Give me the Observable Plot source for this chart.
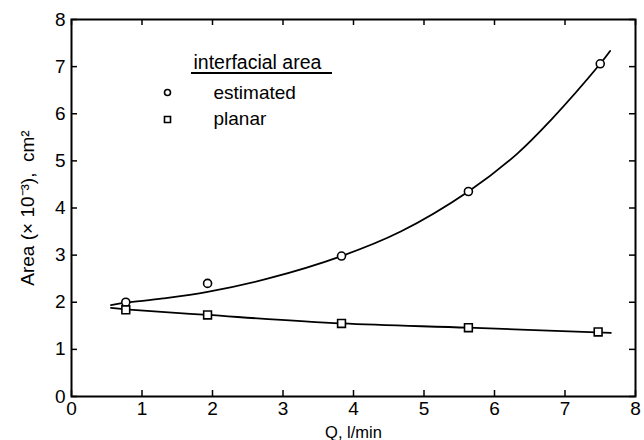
<!DOCTYPE html>
<html>
<head>
<meta charset="utf-8">
<script src="https://cdn.jsdelivr.net/npm/d3@7"></script>
<script src="https://cdn.jsdelivr.net/npm/@observablehq/plot@0.6"></script>
<style>
  html, body { margin: 0; padding: 0; background: #fff; }
  #chart svg { display: block; }
</style>
</head>
<body>
<div id="chart"></div>
<script>
// Measured interfacial area vs. gas flow rate Q
const flowRates = [0.77, 1.93, 3.83, 5.63, 7.5];          // Q, l/min
const estimatedArea = [2.0, 2.40, 2.98, 4.35, 7.06];      // ×10⁻³ cm²
const planarFlowRates = [0.77, 1.93, 3.83, 5.63, 7.47];
const planarArea = [1.84, 1.73, 1.55, 1.46, 1.37];

// Hand-drawn smoothing curves through each series
const estCurveQ = [0.56, 0.77, 1.3, 1.93, 2.78, 3.83, 4.67, 5.63, 6.32, 6.79, 7.5, 7.64];
const estCurveA = [1.94, 1.99, 2.08, 2.22, 2.50, 2.98, 3.50, 4.35, 5.15, 5.85, 7.06, 7.33];
const planCurveQ = [0.56, 0.77, 1.93, 3.83, 5.63, 7.65];
const planCurveA = [1.88, 1.85, 1.73, 1.55, 1.46, 1.35];

const xTicks = [0, 1, 2, 3, 4, 5, 6, 7, 8];
const yTicks = [0, 1, 2, 3, 4, 5, 6, 7, 8];

const legendTitle = "interfacial area";
const legendLabels = ["estimated", "planar"];

const est = flowRates.map((q, i) => ({q, a: estimatedArea[i]}));
const plan = planarFlowRates.map((q, i) => ({q, a: planarArea[i]}));
const estCurve = estCurveQ.map((q, i) => ({q, a: estCurveA[i]}));
const planCurve = planCurveQ.map((q, i) => ({q, a: planCurveA[i]}));

const font = "Liberation Sans, Arial, sans-serif";
const W = 644, H = 440;
const mL = 71, mR = 9, mT = 19, mB = 44;
const frameW = W - mL - mR, frameH = H - mT - mB;
const tickLen = 6;

// underline beneath the legend heading (offsets from the frame's top-left corner)
function headingRule(index, scales, values, dims) {
  const line = document.createElementNS("http://www.w3.org/2000/svg", "line");
  line.setAttribute("x1", dims.marginLeft + 120);
  line.setAttribute("x2", dims.marginLeft + 261);
  line.setAttribute("y1", dims.marginTop + 54);
  line.setAttribute("y2", dims.marginTop + 54);
  line.setAttribute("stroke", "#000");
  line.setAttribute("stroke-width", 1.8);
  return line;
}

const chart = Plot.plot({
  width: W,
  height: H,
  marginLeft: mL,
  marginRight: mR,
  marginTop: mT,
  marginBottom: mB,
  style: {fontFamily: font, fontSize: "19px", color: "#000", background: "#fff"},
  x: {domain: [0, 8]},
  y: {domain: [0, 8]},
  marks: [
    Plot.axisX({anchor: "bottom", ticks: xTicks, tickSize: 0, tickPadding: 5, fontSize: 19,
      label: null}),
    Plot.axisX({anchor: "bottom", ticks: [], tickSize: 0, fontSize: 16.5,
      label: "Q, l/min", labelAnchor: "center", labelOffset: 41, labelArrow: "none"}),
    Plot.axisY({anchor: "left", ticks: yTicks, tickSize: 0, tickPadding: 6, fontSize: 19,
      label: "Area (× 10⁻³),  cm²", labelAnchor: "center", labelOffset: 51, labelArrow: "none"}),

    // inward tick marks on all four sides
    Plot.tickX(xTicks, {x: d => d, insetTop: frameH - tickLen, stroke: "#000", strokeWidth: 1.5}),
    Plot.tickX(xTicks, {x: d => d, insetBottom: frameH - tickLen, stroke: "#000", strokeWidth: 1.5}),
    Plot.tickY(yTicks, {y: d => d, insetRight: frameW - tickLen, stroke: "#000", strokeWidth: 1.5}),
    Plot.tickY(yTicks, {y: d => d, insetLeft: frameW - tickLen, stroke: "#000", strokeWidth: 1.5}),
    Plot.frame({stroke: "#000", strokeWidth: 2}),

    Plot.line(estCurve, {x: "q", y: "a", curve: "catmull-rom", stroke: "#000", strokeWidth: 1.8}),
    Plot.line(planCurve, {x: "q", y: "a", curve: "catmull-rom", stroke: "#000", strokeWidth: 1.8}),
    Plot.dot(est, {x: "q", y: "a", symbol: "circle", r: 4, fill: "#fff", stroke: "#000", strokeWidth: 1.6}),
    Plot.dot(plan, {x: "q", y: "a", symbol: "square", r: 4.4, fill: "#fff", stroke: "#000", strokeWidth: 1.6}),

    // Legend
    Plot.text([legendTitle], {frameAnchor: "top-left", lineAnchor: "middle", dx: 122, dy: 43, textAnchor: "start", fontSize: 19.5}),
    headingRule,
    Plot.dot([0], {frameAnchor: "top-left", dx: 96, dy: 73, symbol: "circle", r: 3, fill: "#fff", stroke: "#000", strokeWidth: 1.6}),
    Plot.dot([0], {frameAnchor: "top-left", dx: 96, dy: 100, symbol: "square", r: 3.4, fill: "#fff", stroke: "#000", strokeWidth: 1.6}),
    Plot.text([legendLabels[0]], {frameAnchor: "top-left", lineAnchor: "middle", dx: 142, dy: 73, textAnchor: "start", fontSize: 19}),
    Plot.text([legendLabels[1]], {frameAnchor: "top-left", lineAnchor: "middle", dx: 142, dy: 99, textAnchor: "start", fontSize: 19})
  ]
});

document.getElementById("chart").appendChild(chart);
</script>
</body>
</html>
